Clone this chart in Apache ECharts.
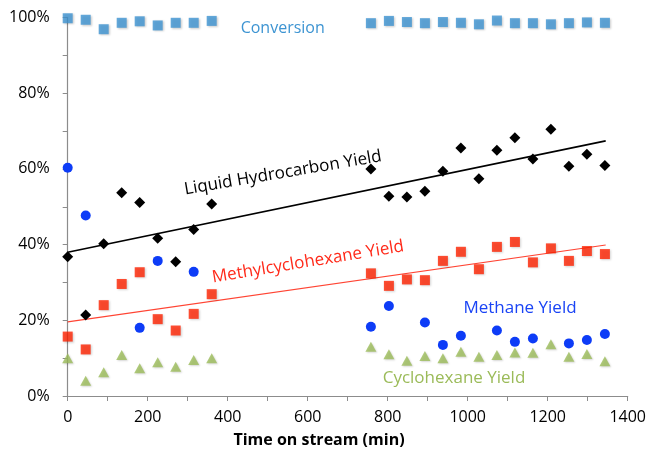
<!DOCTYPE html>
<html>
<head>
<meta charset="utf-8">
<script src="https://cdn.jsdelivr.net/npm/echarts@6/dist/echarts.min.js"></script>
<style>
html,body{margin:0;padding:0;background:#fff;}
#chart{width:649px;height:449px;}
</style>
</head>
<body>
<div id="chart"></div>
<script>
// Time on stream (min)
const times = [0, 45, 90, 135, 180, 225, 270, 315, 360,
  758, 803, 848, 893, 938, 983, 1028, 1073, 1118, 1163, 1208, 1253, 1298, 1343];
// Values in %
const conversion = [99.8, 99.4, 96.9, 98.6, 99.0, 97.9, 98.6, 98.6, 99.1,
  98.5, 99.1, 98.8, 98.5, 98.8, 98.6, 98.2, 99.2, 98.5, 98.5, 98.2, 98.5, 98.7, 98.6];
const liquidYield = [36.8, 21.4, 40.2, 53.7, 51.1, 41.7, 35.5, 44.0, 50.7,
  60.0, 52.8, 52.6, 54.1, 59.4, 65.5, 57.4, 64.9, 68.2, 62.6, 70.5, 60.7, 63.9, 60.9];
const methylcyclohexaneYield = [15.7, 12.3, 24.0, 29.6, 32.7, 20.3, 17.3, 21.7, 26.9,
  32.4, 29.1, 30.8, 30.6, 35.7, 38.1, 33.5, 39.4, 40.7, 35.3, 39.0, 35.7, 38.3, 37.5];
const methaneYield = [60.3, 47.7, null, null, 18.0, 35.7, null, 32.8, null,
  18.3, 23.8, null, 19.4, 13.5, 15.9, null, 17.3, 14.3, 15.2, null, 13.9, 14.8, 16.4];
const cyclohexaneYield = [10.0, 4.0, 6.3, 10.8, 7.3, 8.9, 7.7, 9.5, 10.0,
  13.0, 11.0, 9.3, 10.6, 10.0, 11.7, 10.4, 10.8, 11.5, 11.4, 13.7, 10.4, 11.1, 9.2];
// Linear trend lines (endpoints)
const trendX = [0, 1345];
const trendLiquid = [38.0, 67.4];
const trendMethyl = [19.6, 39.9];
// Axis ticks
const xTicks = [0, 200, 400, 600, 800, 1000, 1200, 1400];
const yTicks = [0, 20, 40, 60, 80, 100];

function pairs(xs, ys) {
  const out = [];
  for (let i = 0; i < xs.length; i++) {
    if (ys[i] !== null && ys[i] !== undefined) out.push([xs[i], ys[i]]);
  }
  return out;
}

const FONT = "'Open Sans', 'DejaVu Sans', sans-serif";
const chart = echarts.init(document.getElementById('chart'));
const axisGray = '#8c8c8c';

chart.setOption({
  animation: false,
  backgroundColor: '#fff',
  grid: { left: 67.7, right: 21.3, top: 17.5, bottom: 53, containLabel: false },
  xAxis: {
    type: 'value',
    min: xTicks[0], max: xTicks[xTicks.length - 1], interval: 200,
    axisLine: { show: true, lineStyle: { color: axisGray, width: 1.2 } },
    axisTick: { show: true, length: 5, inside: false, lineStyle: { color: axisGray } },
    minorTick: { show: true, splitNumber: 2, length: 5, lineStyle: { color: axisGray } },
    splitLine: { show: false },
    axisLabel: { color: '#000', fontSize: 16, fontFamily: FONT, margin: 13, formatter: function (v) { return String(v); } }
  },
  yAxis: {
    type: 'value',
    min: yTicks[0], max: yTicks[yTicks.length - 1], interval: 20,
    axisLine: { show: true, lineStyle: { color: axisGray, width: 1.2 } },
    axisTick: { show: true, length: 5, inside: false, lineStyle: { color: axisGray } },
    minorTick: { show: true, splitNumber: 2, length: 5, lineStyle: { color: axisGray } },
    splitLine: { show: false },
    axisLabel: { color: '#000', fontSize: 16, fontFamily: FONT, margin: 18, formatter: function (v) { return v + '%'; } }
  },
  series: [
    {
      type: 'line', data: pairs(trendX, trendLiquid), symbol: 'none',
      lineStyle: { color: '#000', width: 1.6 }, z: 1, silent: true
    },
    {
      type: 'line', data: pairs(trendX, trendMethyl), symbol: 'none',
      lineStyle: { color: '#ff4433', width: 1.2 }, z: 1, silent: true
    },
    {
      name: 'Conversion', type: 'scatter', data: pairs(times, conversion),
      symbol: 'rect', symbolSize: 10, clip: false,
      itemStyle: { color: '#3d94d2', shadowBlur: 2, shadowColor: 'rgba(0,0,0,0.25)', shadowOffsetX: 1, shadowOffsetY: 1 }
    },
    {
      name: 'Liquid Hydrocarbon Yield', type: 'scatter', data: pairs(times, liquidYield),
      symbol: 'diamond', symbolSize: 11,
      itemStyle: { color: '#000', opacity: 1 }
    },
    {
      name: 'Methylcyclohexane Yield', type: 'scatter', data: pairs(times, methylcyclohexaneYield),
      symbol: 'rect', symbolSize: 10,
      itemStyle: { color: '#fe2200', shadowBlur: 2, shadowColor: 'rgba(0,0,0,0.2)', shadowOffsetX: 1, shadowOffsetY: 1 }
    },
    {
      name: 'Methane Yield', type: 'scatter', data: pairs(times, methaneYield),
      symbol: 'circle', symbolSize: 10,
      itemStyle: { color: '#0d3cf7', opacity: 1 }
    },
    {
      name: 'Cyclohexane Yield', type: 'scatter', data: pairs(times, cyclohexaneYield),
      symbol: 'triangle', symbolSize: [11, 10],
      itemStyle: { color: '#9bbb59', shadowBlur: 2, shadowColor: 'rgba(0,0,0,0.2)', shadowOffsetX: 1, shadowOffsetY: 1 }
    }
  ],
  graphic: [
    { type: 'text', x: 282.7, y: 28, style: { text: 'Conversion', fill: '#3d94d2', font: '16px ' + FONT, align: 'center', verticalAlign: 'middle' } },
    { type: 'text', x: 283, y: 173, rotation: 0.168, style: { text: 'Liquid Hydrocarbon Yield', fill: '#000', font: '17px ' + FONT, align: 'center', verticalAlign: 'middle' } },
    { type: 'text', x: 308, y: 262, rotation: 0.162, style: { text: 'Methylcyclohexane Yield', fill: '#ff2a1a', font: '17px ' + FONT, align: 'center', verticalAlign: 'middle' } },
    { type: 'text', x: 520, y: 308, style: { text: 'Methane Yield', fill: '#1a44f5', font: '17px ' + FONT, align: 'center', verticalAlign: 'middle' } },
    { type: 'text', x: 454, y: 378, style: { text: 'Cyclohexane Yield', fill: '#9bbb59', font: '17px ' + FONT, align: 'center', verticalAlign: 'middle' } },
    { type: 'text', x: 319, y: 440, style: { text: 'Time on stream (min)', fill: '#000', font: 'bold 16px ' + FONT, align: 'center', verticalAlign: 'middle' } }
  ]
});
</script>
</body>
</html>
